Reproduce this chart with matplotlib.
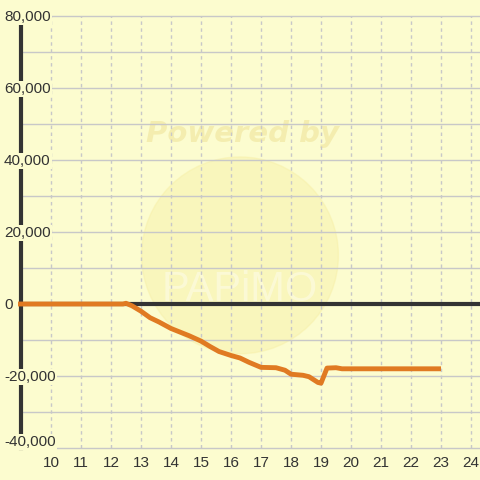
import matplotlib
matplotlib.use("Agg")
import matplotlib.pyplot as plt
from matplotlib.patches import Circle

plt.rcParams['font.family'] = ['Liberation Sans', 'DejaVu Sans']

# series
x_vals = [8.9, 12.4, 12.5, 12.7, 13.0, 13.3, 13.6, 14.0, 14.3, 14.6, 15.0, 15.3,
          15.6, 16.0, 16.3, 16.6, 17.0, 17.5, 17.8, 18.0, 18.4, 18.6, 18.9, 19.0,
          19.2, 19.5, 19.7, 20.5, 23.0]
y_vals = [0, 0, 200, -500, -2000, -3800, -5000, -6800, -7800, -8800, -10300, -11800,
          -13200, -14300, -15000, -16200, -17600, -17700, -18400, -19500, -19800,
          -20200, -21800, -22000, -17800, -17700, -18000, -18000, -18000]

y_ticks = [-40000, -20000, 0, 20000, 40000, 60000, 80000]
y_labels = ['-40,000', '-20,000', '0', '20,000', '40,000', '60,000', '80,000']
x_ticks = list(range(10, 25))

bg = '#fcfccf'
fig = plt.figure(figsize=(4.8, 4.8), dpi=100, facecolor=bg)
ax = fig.add_axes([0, 0, 1, 1])
ax.set_facecolor(bg)
ax.set_xlim(8.3, 24.3)
ax.set_ylim(-48889, 84444)
ax.axis('off')

# faint watermark behind everything
ax.add_patch(Circle((0.5, 0.468), 0.205, transform=fig.transFigure,
                    color='#f7efa6', alpha=0.45, zorder=0.5))
ax.text(0.505, 0.72, 'Powered by', transform=fig.transFigure, ha='center',
        va='center', fontsize=21, fontweight='bold', style='italic',
        color='#f2eaa8', alpha=0.8, family='DejaVu Sans', zorder=0.6)
ax.text(0.5, 0.395, 'PAPiMO', transform=fig.transFigure, ha='center',
        va='center', fontsize=30, color='#fdfbe0', alpha=0.7, zorder=0.6)

# grid
for yv in range(-40000, 80001, 10000):
    ax.plot([9, 24.3], [yv, yv], color='#c8c8c8', lw=1, zorder=1)
for xv in x_ticks:
    ax.plot([xv, xv], [-40000, 80000], color='#c8c8c8', lw=1,
            ls=(0, (2.5, 2.5)), zorder=1)

# axes lines
ax.plot([9, 9], [-40000, 80000], color='#333333', lw=3, zorder=2)
ax.plot([9, 24.3], [0, 0], color='#333333', lw=3, zorder=2)

for yv, lab in zip(y_ticks, y_labels):
    ty = yv - 300 if yv > -40000 else yv + 1700
    ax.text(8.43, ty, lab, ha='left', va='center', fontsize=11,
            color='#333333', bbox=dict(facecolor=bg, edgecolor='none', pad=0.8),
            zorder=4)
for xv in x_ticks:
    ax.text(xv, -44300, str(xv), ha='center', va='center', fontsize=11,
            color='#333333', zorder=4)

ax.plot(x_vals, y_vals, color='#e07a22', lw=3.5, solid_joinstyle='round',
        solid_capstyle='butt', zorder=5)

fig.savefig('out.png', dpi=100, facecolor=bg)
